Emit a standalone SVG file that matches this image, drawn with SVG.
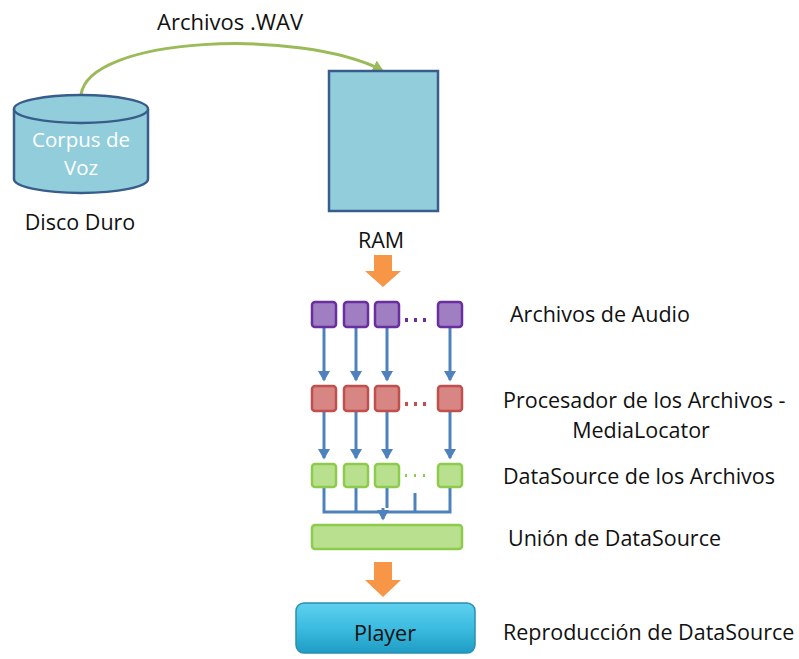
<svg xmlns="http://www.w3.org/2000/svg" width="799" height="659" viewBox="0 0 799 659">
<defs>
<style>
text{font-family:"Open Sans","Liberation Sans",sans-serif;fill:#111;}
.lbl{font-size:21.5px;}
.pur{fill:#9f7fc2;stroke:#6a2ea0;stroke-width:2.5;}
.red{fill:#d78684;stroke:#c0504d;stroke-width:2.5;}
.grn{fill:#b8e08e;stroke:#8dcb4c;stroke-width:2.5;}
.blue{stroke:#4f81bd;stroke-width:3;fill:none;}
.org{fill:#f79646;}
</style>
<marker id="ab" markerWidth="4" markerHeight="4" refX="3" refY="2" orient="auto" markerUnits="strokeWidth">
<path d="M0,0 L3.5,2 L0,4 Z" fill="#4f81bd"/>
</marker>
<marker id="ag" markerWidth="4" markerHeight="4" refX="3" refY="2" orient="auto" markerUnits="strokeWidth">
<path d="M0,0 L3.5,2 L0,4 Z" fill="#9bbb59"/>
</marker>
<linearGradient id="pg" x1="0" y1="0" x2="0" y2="1">
<stop offset="0" stop-color="#5fd0ee"/>
<stop offset="0.5" stop-color="#3bbce0"/>
<stop offset="1" stop-color="#1f9cc4"/>
</linearGradient>
</defs>

<g id="connectors">
<path d="M81,95 C88,36 300,28 382,70" stroke="#9bbb59" stroke-width="3" fill="none" marker-end="url(#ag)"/>
<text x="230" y="30" text-anchor="middle" style="font-size:22px">Archivos .WAV</text>
<polygon class="org" points="374,255 392,255 392,271 401,271 383,287 365,271 374,271"/>
<polygon class="org" points="374,562 392,562 392,580 401,580 383,597 365,580 374,580"/>
<line class="blue" x1="324" y1="328" x2="324" y2="380" marker-end="url(#ab)"/>
<line class="blue" x1="356" y1="328" x2="356" y2="380" marker-end="url(#ab)"/>
<line class="blue" x1="387" y1="328" x2="387" y2="380" marker-end="url(#ab)"/>
<line class="blue" x1="450" y1="328" x2="450" y2="380" marker-end="url(#ab)"/>
<line class="blue" x1="324" y1="412" x2="324" y2="458" marker-end="url(#ab)"/>
<line class="blue" x1="356" y1="412" x2="356" y2="458" marker-end="url(#ab)"/>
<line class="blue" x1="387" y1="412" x2="387" y2="458" marker-end="url(#ab)"/>
<line class="blue" x1="450" y1="412" x2="450" y2="458" marker-end="url(#ab)"/>
<path class="blue" d="M324,488 V512 H450 V488 M356,488 V512 M387,488 V508 M415,493 V512"/>
<line class="blue" x1="383" y1="508" x2="383" y2="519" marker-end="url(#ab)"/>
</g>

<g id="disco">
<path d="M14,109 V179 A67,14 0 0 0 148,179 V109" fill="#92cddc" stroke="#385d8a" stroke-width="2.5"/>
<ellipse cx="81" cy="109" rx="67" ry="14" fill="#92cddc" stroke="#385d8a" stroke-width="2.5"/>
<text x="81" y="147" text-anchor="middle" style="font-size:20.5px;fill:#fff">Corpus de</text>
<text x="81" y="175" text-anchor="middle" style="font-size:20.5px;fill:#fff">Voz</text>
<text x="80" y="230" text-anchor="middle" class="lbl">Disco Duro</text>
</g>

<g id="ram">
<rect x="329" y="71" width="109" height="140" fill="#92cddc" stroke="#385d8a" stroke-width="2.5"/>
<text x="381" y="248" text-anchor="middle" class="lbl">RAM</text>
</g>

<g id="archivos-audio">
<rect class="pur" x="312" y="302" width="24" height="25" rx="3"/>
<rect class="pur" x="344" y="302" width="24" height="25" rx="3"/>
<rect class="pur" x="375" y="302" width="24" height="25" rx="3"/>
<rect class="pur" x="438" y="302" width="24" height="25" rx="3"/>
<g fill="#6a2ea0"><rect x="405" y="318" width="3" height="4"/><rect x="414" y="318" width="3" height="4"/><rect x="423" y="318" width="3" height="4"/></g>
<text x="510" y="322" class="lbl">Archivos de Audio</text>
</g>

<g id="procesador">
<rect class="red" x="312" y="386" width="24" height="25" rx="3"/>
<rect class="red" x="344" y="386" width="24" height="25" rx="3"/>
<rect class="red" x="375" y="386" width="24" height="25" rx="3"/>
<rect class="red" x="438" y="386" width="24" height="25" rx="3"/>
<g fill="#c0504d"><rect x="405" y="402" width="3" height="4"/><rect x="414" y="402" width="3" height="4"/><rect x="423" y="402" width="3" height="4"/></g>
<text x="503" y="408" class="lbl">Procesador de los Archivos -</text>
<text x="641" y="438" text-anchor="middle" class="lbl">MediaLocator</text>
</g>

<g id="datasource">
<rect class="grn" x="312" y="464" width="24" height="23" rx="3"/>
<rect class="grn" x="344" y="464" width="24" height="23" rx="3"/>
<rect class="grn" x="375" y="464" width="24" height="23" rx="3"/>
<rect class="grn" x="438" y="464" width="24" height="23" rx="3"/>
<g fill="#8dcb4c"><rect x="405" y="474" width="2" height="3"/><rect x="414" y="474" width="2" height="3"/><rect x="423" y="474" width="2" height="3"/></g>
<text x="503" y="484" class="lbl">DataSource de los Archivos</text>
</g>

<g id="union">
<rect class="grn" x="312" y="525" width="150" height="24" rx="3"/>
<text x="508" y="546" class="lbl">Unión de DataSource</text>
</g>

<g id="player">
<rect x="296" y="603" width="179" height="50" rx="8" fill="url(#pg)" stroke="#2a8fb0" stroke-width="1.5"/>
<text x="385" y="641" text-anchor="middle" style="font-size:21.5px">Player</text>
<text x="503" y="640" class="lbl">Reproducción de DataSource</text>
</g>
</svg>
